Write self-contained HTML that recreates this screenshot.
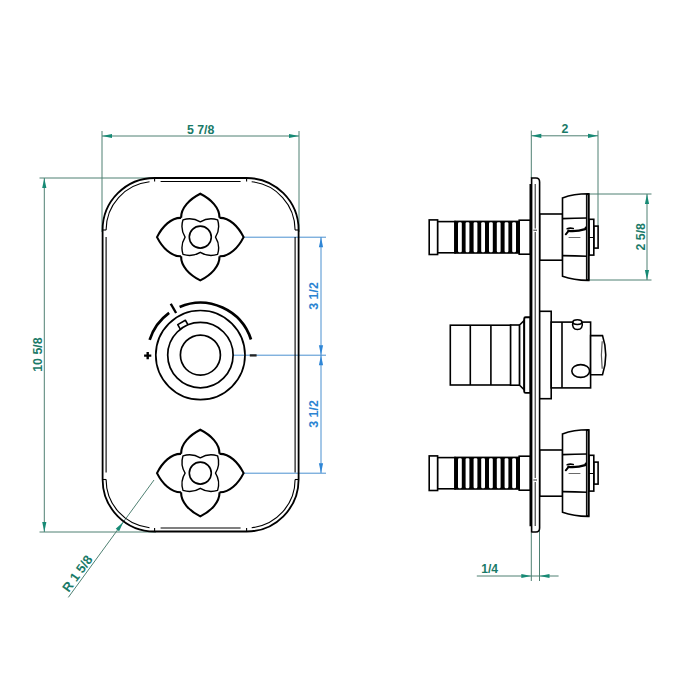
<!DOCTYPE html>
<html><head><meta charset="utf-8"><title>Drawing</title>
<style>
html,body{margin:0;padding:0;background:#fff;}
body{width:700px;height:700px;overflow:hidden;font-family:"Liberation Sans",sans-serif;}
svg{display:block;}
text{font-family:"Liberation Sans",sans-serif;font-weight:bold;font-size:13px;}
</style></head><body>
<svg width="700" height="700" viewBox="0 0 700 700">
<rect width="700" height="700" fill="#fff"/>

<g stroke="#4F8072" stroke-width="1" fill="none"><line x1="102" y1="131" x2="102" y2="232"/><line x1="299" y1="131" x2="299" y2="232"/><line x1="102" y1="136" x2="299" y2="136"/><line x1="39.5" y1="178" x2="156" y2="178"/><line x1="39.5" y1="532" x2="156" y2="532"/><line x1="44.3" y1="178" x2="44.3" y2="532"/><line x1="154" y1="480" x2="68.3" y2="597.4"/></g>
<polygon points="102.00,136.00 112.00,133.90 112.00,138.10" fill="#178A75"/>
<polygon points="299.00,136.00 289.00,138.10 289.00,133.90" fill="#178A75"/>
<polygon points="44.30,178.00 46.40,188.00 42.20,188.00" fill="#178A75"/>
<polygon points="44.30,532.00 42.20,522.00 46.40,522.00" fill="#178A75"/>
<polygon points="123.34,522.00 119.14,531.32 115.75,528.84" fill="#178A75"/>
<text transform="translate(200.6,133.8) rotate(0)" x="-13.73" y="0" textLength="27.47" lengthAdjust="spacingAndGlyphs" fill="#1A7A68">5 7/8</text>
<text transform="translate(41.6,354.6) rotate(-90)" x="-17.17" y="0" textLength="34.33" lengthAdjust="spacingAndGlyphs" fill="#1A7A68">10 5/8</text>
<text transform="translate(68.7,593.0) rotate(-53.87)" x="0.00" y="0" textLength="41.49" lengthAdjust="spacingAndGlyphs" fill="#1A7A68">R 1 5/8</text>
<g stroke="#4A90D0" stroke-width="1" fill="none"><line x1="243.5" y1="237.2" x2="326" y2="237.2"/><line x1="233" y1="355.2" x2="326" y2="355.2"/><line x1="243.5" y1="473.2" x2="326" y2="473.2"/><line x1="321.0" y1="237" x2="321.0" y2="473"/></g>
<polygon points="321.00,237.20 323.10,247.20 318.90,247.20" fill="#2F86D6"/>
<polygon points="321.00,355.20 318.90,345.20 323.10,345.20" fill="#2F86D6"/>
<polygon points="321.00,355.20 323.10,365.20 318.90,365.20" fill="#2F86D6"/>
<polygon points="321.00,473.20 318.90,463.20 323.10,463.20" fill="#2F86D6"/>
<text transform="translate(317.8,296) rotate(-90)" x="-13.73" y="0" textLength="27.47" lengthAdjust="spacingAndGlyphs" fill="#2B84D2">3 1/2</text>
<text transform="translate(317.8,414) rotate(-90)" x="-13.73" y="0" textLength="27.47" lengthAdjust="spacingAndGlyphs" fill="#2B84D2">3 1/2</text>
<rect x="102.6" y="178" width="196.00000000000003" height="353.5" rx="52" ry="52" fill="none" stroke="#000" stroke-width="1.8"/>
<g fill="none" stroke="#000" stroke-width="1.1"><path d="M 106.10,230.00 A 48.5,48.5 0 0 1 149.53,181.77"/><path d="M 251.67,181.77 A 48.5,48.5 0 0 1 295.10,230.00"/><path d="M 295.10,479.50 A 48.5,48.5 0 0 1 251.67,527.73"/><path d="M 149.53,527.73 A 48.5,48.5 0 0 1 106.10,479.50"/><line x1="160.6" y1="181.5" x2="240.60000000000002" y2="181.5"/><line x1="160.6" y1="528.0" x2="240.60000000000002" y2="528.0"/><line x1="106.1" y1="237" x2="106.1" y2="472.5"/><line x1="295.1" y1="237" x2="295.1" y2="472.5"/><line x1="154.6" y1="178" x2="154.6" y2="181.6"/><line x1="246.60000000000002" y1="178" x2="246.60000000000002" y2="181.6"/><line x1="154.6" y1="531.5" x2="154.6" y2="527.9"/><line x1="246.60000000000002" y1="531.5" x2="246.60000000000002" y2="527.9"/><line x1="102.6" y1="230" x2="106.19999999999999" y2="230.0"/><line x1="102.6" y1="479.5" x2="106.19999999999999" y2="479.5"/><line x1="298.6" y1="230" x2="295.0" y2="230.0"/><line x1="298.6" y1="479.5" x2="295.0" y2="479.5"/></g>
<g transform="translate(200.3,237.1)" fill="none" stroke="#000"><path transform="rotate(0)" d="M -19.2,-19.2 C -19.5,-29.2 -10.7,-37.9 0,-43.3 C 10.7,-37.9 19.5,-29.2 19.2,-19.2" stroke-width="2.1" stroke-linejoin="miter"/><path transform="rotate(90)" d="M -19.2,-19.2 C -19.5,-29.2 -10.7,-37.9 0,-43.3 C 10.7,-37.9 19.5,-29.2 19.2,-19.2" stroke-width="2.1" stroke-linejoin="miter"/><path transform="rotate(180)" d="M -19.2,-19.2 C -19.5,-29.2 -10.7,-37.9 0,-43.3 C 10.7,-37.9 19.5,-29.2 19.2,-19.2" stroke-width="2.1" stroke-linejoin="miter"/><path transform="rotate(270)" d="M -19.2,-19.2 C -19.5,-29.2 -10.7,-37.9 0,-43.3 C 10.7,-37.9 19.5,-29.2 19.2,-19.2" stroke-width="2.1" stroke-linejoin="miter"/><path d="M -17.3,-17.3 Q -8,-20.2 0,-15.2 Q 8,-20.2 17.3,-17.3 Q 20.2,-8 15.2,0 Q 20.2,8 17.3,17.3 Q 8,20.2 0,15.2 Q -8,20.2 -17.3,17.3 Q -20.2,8 -15.2,0 Q -20.2,-8 -17.3,-17.3 Z" stroke-width="1.4" stroke-linejoin="round"/><circle cx="0" cy="0" r="11" stroke-width="1.6"/></g>
<g transform="translate(200.3,473.1)" fill="none" stroke="#000"><path transform="rotate(0)" d="M -19.2,-19.2 C -19.5,-29.2 -10.7,-37.9 0,-43.3 C 10.7,-37.9 19.5,-29.2 19.2,-19.2" stroke-width="2.1" stroke-linejoin="miter"/><path transform="rotate(90)" d="M -19.2,-19.2 C -19.5,-29.2 -10.7,-37.9 0,-43.3 C 10.7,-37.9 19.5,-29.2 19.2,-19.2" stroke-width="2.1" stroke-linejoin="miter"/><path transform="rotate(180)" d="M -19.2,-19.2 C -19.5,-29.2 -10.7,-37.9 0,-43.3 C 10.7,-37.9 19.5,-29.2 19.2,-19.2" stroke-width="2.1" stroke-linejoin="miter"/><path transform="rotate(270)" d="M -19.2,-19.2 C -19.5,-29.2 -10.7,-37.9 0,-43.3 C 10.7,-37.9 19.5,-29.2 19.2,-19.2" stroke-width="2.1" stroke-linejoin="miter"/><path d="M -17.3,-17.3 Q -8,-20.2 0,-15.2 Q 8,-20.2 17.3,-17.3 Q 20.2,-8 15.2,0 Q 20.2,8 17.3,17.3 Q 8,20.2 0,15.2 Q -8,20.2 -17.3,17.3 Q -20.2,8 -15.2,0 Q -20.2,-8 -17.3,-17.3 Z" stroke-width="1.4" stroke-linejoin="round"/><circle cx="0" cy="0" r="11" stroke-width="1.6"/></g>
<g fill="none" stroke="#000"><circle cx="200.4" cy="355.1" r="44.6" stroke-width="1.7"/><circle cx="200.4" cy="355.1" r="32.7" stroke-width="1.7"/><circle cx="200.4" cy="355.1" r="20" stroke-width="1.7"/><path d="M 149.66,339.90 A 53.2,53.2 0 0 1 169.13,312.86" stroke-width="2.7"/><path d="M 179.61,306.93 A 53.2,53.2 0 0 1 251.00,339.46" stroke-width="2.7"/><line x1="176.10" y1="313.01" x2="170.75" y2="303.74" stroke-width="2.4"/></g><g transform="translate(200.4,355.1) rotate(-30)"><path d="M -4.4,-32.3 L -4.4,-37.7 L 4.4,-37.7 L 4.4,-32.3" fill="none" stroke="#000" stroke-width="1.6" stroke-linejoin="round"/></g><path d="M 144.1,355.6 H 151.3 M 147.7,352 V 359.2" stroke="#000" stroke-width="2.4" fill="none"/><line x1="249.8" y1="355.4" x2="256.6" y2="355.4" stroke="#222" stroke-width="2.3"/>
<g stroke="#4F8072" stroke-width="1" fill="none"><line x1="531.3" y1="130.6" x2="531.3" y2="178"/><line x1="598" y1="130.6" x2="598" y2="226"/><line x1="531.3" y1="135.8" x2="598" y2="135.8"/><line x1="589" y1="194" x2="651.5" y2="194"/><line x1="589" y1="280" x2="651.5" y2="280"/><line x1="647" y1="194" x2="647" y2="280"/><line x1="531.3" y1="533" x2="531.3" y2="581"/><line x1="539.5" y1="529" x2="539.5" y2="581"/><line x1="476.8" y1="576" x2="558.6" y2="576"/></g>
<polygon points="531.30,135.80 541.30,133.70 541.30,137.90" fill="#178A75"/>
<polygon points="598.00,135.80 588.00,137.90 588.00,133.70" fill="#178A75"/>
<polygon points="647.00,194.00 649.10,204.00 644.90,204.00" fill="#178A75"/>
<polygon points="647.00,280.00 644.90,270.00 649.10,270.00" fill="#178A75"/>
<polygon points="531.30,576.00 521.30,578.10 521.30,573.90" fill="#178A75"/>
<polygon points="539.50,576.00 549.50,573.90 549.50,578.10" fill="#178A75"/>
<text transform="translate(564.8,133.4) rotate(0)" x="-3.43" y="0" textLength="6.87" lengthAdjust="spacingAndGlyphs" fill="#1A7A68">2</text>
<text transform="translate(644.8,236.8) rotate(-90)" x="-13.73" y="0" textLength="27.47" lengthAdjust="spacingAndGlyphs" fill="#1A7A68">2 5/8</text>
<text transform="translate(481.2,573.4) rotate(0)" x="0.00" y="0" textLength="16.81" lengthAdjust="spacingAndGlyphs" fill="#1A7A68">1/4</text>
<g fill="#fff" stroke="#000" stroke-width="1.6"><rect x="519.2" y="220.2" width="11.3" height="34"/><rect x="437.4" y="221.6" width="17.6" height="31.2"/><rect x="429.2" y="219.89999999999998" width="8.4" height="34.6"/></g><rect x="454.2" y="220.6" width="65.4" height="33.2" fill="#000"/><rect x="458.00" y="222.2" width="3.8" height="30" rx="1.2" fill="#fff"/><rect x="465.60" y="222.2" width="3.8" height="30" rx="1.2" fill="#fff"/><rect x="473.60" y="222.2" width="3.8" height="30" rx="1.2" fill="#fff"/><rect x="481.20" y="222.2" width="3.8" height="30" rx="1.2" fill="#fff"/><rect x="489.00" y="222.2" width="3.8" height="30" rx="1.2" fill="#fff"/><rect x="496.80" y="222.2" width="3.8" height="30" rx="1.2" fill="#fff"/><rect x="504.60" y="222.2" width="3.8" height="30" rx="1.2" fill="#fff"/><rect x="512.20" y="222.2" width="3.8" height="30" rx="1.2" fill="#fff"/>
<g fill="#fff" stroke="#000" stroke-width="1.6"><rect x="519.2" y="456.2" width="11.3" height="34"/><rect x="437.4" y="457.59999999999997" width="17.6" height="31.2"/><rect x="429.2" y="455.9" width="8.4" height="34.6"/></g><rect x="454.2" y="456.59999999999997" width="65.4" height="33.2" fill="#000"/><rect x="458.00" y="458.2" width="3.8" height="30" rx="1.2" fill="#fff"/><rect x="465.60" y="458.2" width="3.8" height="30" rx="1.2" fill="#fff"/><rect x="473.60" y="458.2" width="3.8" height="30" rx="1.2" fill="#fff"/><rect x="481.20" y="458.2" width="3.8" height="30" rx="1.2" fill="#fff"/><rect x="489.00" y="458.2" width="3.8" height="30" rx="1.2" fill="#fff"/><rect x="496.80" y="458.2" width="3.8" height="30" rx="1.2" fill="#fff"/><rect x="504.60" y="458.2" width="3.8" height="30" rx="1.2" fill="#fff"/><rect x="512.20" y="458.2" width="3.8" height="30" rx="1.2" fill="#fff"/>
<g fill="#fff" stroke="#000" stroke-width="1.6" stroke-linejoin="miter"><rect x="539.6" y="214.0" width="23" height="46.2"/><rect x="593.8" y="226.1" width="4.3" height="22"/><rect x="589" y="219.29999999999998" width="4.8" height="35.8"/><line x1="589" y1="237.5" x2="593.8" y2="237.5" stroke-width="1"/><path d="M 562.5,197.89999999999998 Q 574,193.7 588.8,193.8 L 588.8,280.4 Q 574,280.5 562.5,276.3 Z"/></g><line x1="587.6" y1="193.7" x2="587.6" y2="280.5" stroke="#000" stroke-width="3.4"/><line x1="587.4" y1="195.1" x2="587.4" y2="279.1" stroke="#fff" stroke-width="0.5"/><path d="M 562.5,218.6 Q 575,218.2 587,218.0" stroke="#000" stroke-width="1.6" fill="none"/><path d="M 562.5,255.6 Q 575,256.0 587,256.2" stroke="#000" stroke-width="1.6" fill="none"/><path d="M 565.8,234.29999999999998 L 568.6,230.9" stroke="#000" stroke-width="2" fill="none" stroke-linecap="round"/><path d="M 567.2,228.7 Q 570,227.7 573.2,228.5" stroke="#000" stroke-width="1.7" fill="none" stroke-linecap="round"/><path d="M 568.4,230.9 Q 577,231.7 585.2,229.1 L 585.8,227.7" stroke="#000" stroke-width="2.2" fill="none" stroke-linecap="round" stroke-linejoin="round"/><line x1="568.6" y1="237.5" x2="580.4" y2="237.5" stroke="#444" stroke-width="0.8"/>
<g fill="#fff" stroke="#000" stroke-width="1.6" stroke-linejoin="miter"><rect x="539.6" y="450.0" width="23" height="46.2"/><rect x="593.8" y="462.1" width="4.3" height="22"/><rect x="589" y="455.3" width="4.8" height="35.8"/><line x1="589" y1="473.5" x2="593.8" y2="473.5" stroke-width="1"/><path d="M 562.5,433.90000000000003 Q 574,429.70000000000005 588.8,429.8 L 588.8,516.4 Q 574,516.5 562.5,512.3000000000001 Z"/></g><line x1="587.6" y1="429.70000000000005" x2="587.6" y2="516.5" stroke="#000" stroke-width="3.4"/><line x1="587.4" y1="431.1" x2="587.4" y2="515.1" stroke="#fff" stroke-width="0.5"/><path d="M 562.5,454.6 Q 575,454.20000000000005 587,454.0" stroke="#000" stroke-width="1.6" fill="none"/><path d="M 562.5,491.6 Q 575,492.0 587,492.20000000000005" stroke="#000" stroke-width="1.6" fill="none"/><path d="M 565.8,470.3 L 568.6,466.90000000000003" stroke="#000" stroke-width="2" fill="none" stroke-linecap="round"/><path d="M 567.2,464.70000000000005 Q 570,463.70000000000005 573.2,464.5" stroke="#000" stroke-width="1.7" fill="none" stroke-linecap="round"/><path d="M 568.4,466.90000000000003 Q 577,467.70000000000005 585.2,465.1 L 585.8,463.70000000000005" stroke="#000" stroke-width="2.2" fill="none" stroke-linecap="round" stroke-linejoin="round"/><line x1="568.6" y1="473.5" x2="580.4" y2="473.5" stroke="#444" stroke-width="0.8"/>
<g fill="#fff" stroke="#000" stroke-width="1.6" stroke-linejoin="miter"><rect x="450.3" y="325.2" width="60.4" height="59.8"/><line x1="470.3" y1="325.2" x2="470.3" y2="385"/><line x1="490.9" y1="325.2" x2="490.9" y2="385"/><rect x="510.6" y="325" width="9" height="60.2"/><path d="M 519.6,325 L 524.2,320.4 L 524.2,389.8 L 519.6,385.2 Z"/><path d="M 524.2,318.8 Q 524.2,317.3 525.7,317.3 L 530.5,317.3 L 530.5,392.9 L 525.7,392.9 Q 524.2,392.9 524.2,391.4 Z" stroke-width="1.9"/><rect x="539.3" y="311.3" width="11.9" height="87.4"/><rect x="551.2" y="322.1" width="39.4" height="65.8"/><line x1="562" y1="322.1" x2="562" y2="387.9"/><path d="M 590.6,335.6 L 602.5,335.6 Q 609,355.1 602.5,374.7 L 590.6,374.7 Z"/><path d="M 602.2,341.3 Q 600.6,355 602.2,368.7" fill="none" stroke="#555" stroke-width="1.2"/><path d="M 572.9,322.1 C 571.6,327 574,329.5 577.4,329.5 C 581,329.5 583.3,327 582,322.1" /><ellipse cx="577.4" cy="322.1" rx="4.5" ry="2.4"/><ellipse cx="580.7" cy="371" rx="8.9" ry="6.4"/></g>
<g fill="#fff" stroke="#000"><path d="M 531.6,184 L 531.6,178 L 536,178 Q 539.6,178 539.6,182 L 539.6,528 Q 539.6,532 536,532 L 531.6,532 L 531.6,526 Z" stroke-width="1.6"/><line x1="530.7" y1="184" x2="530.7" y2="526.2" stroke-width="2.4"/><line x1="535.2" y1="184" x2="535.2" y2="228.5" stroke-width="0.9"/><line x1="535.2" y1="232" x2="535.2" y2="478" stroke-width="0.9"/><line x1="535.2" y1="482" x2="535.2" y2="526" stroke-width="0.9"/><line x1="533.4" y1="230.2" x2="537" y2="230.2" stroke-width="0.8"/><line x1="533.4" y1="480" x2="537" y2="480" stroke-width="0.8"/></g>
</svg></body></html>
